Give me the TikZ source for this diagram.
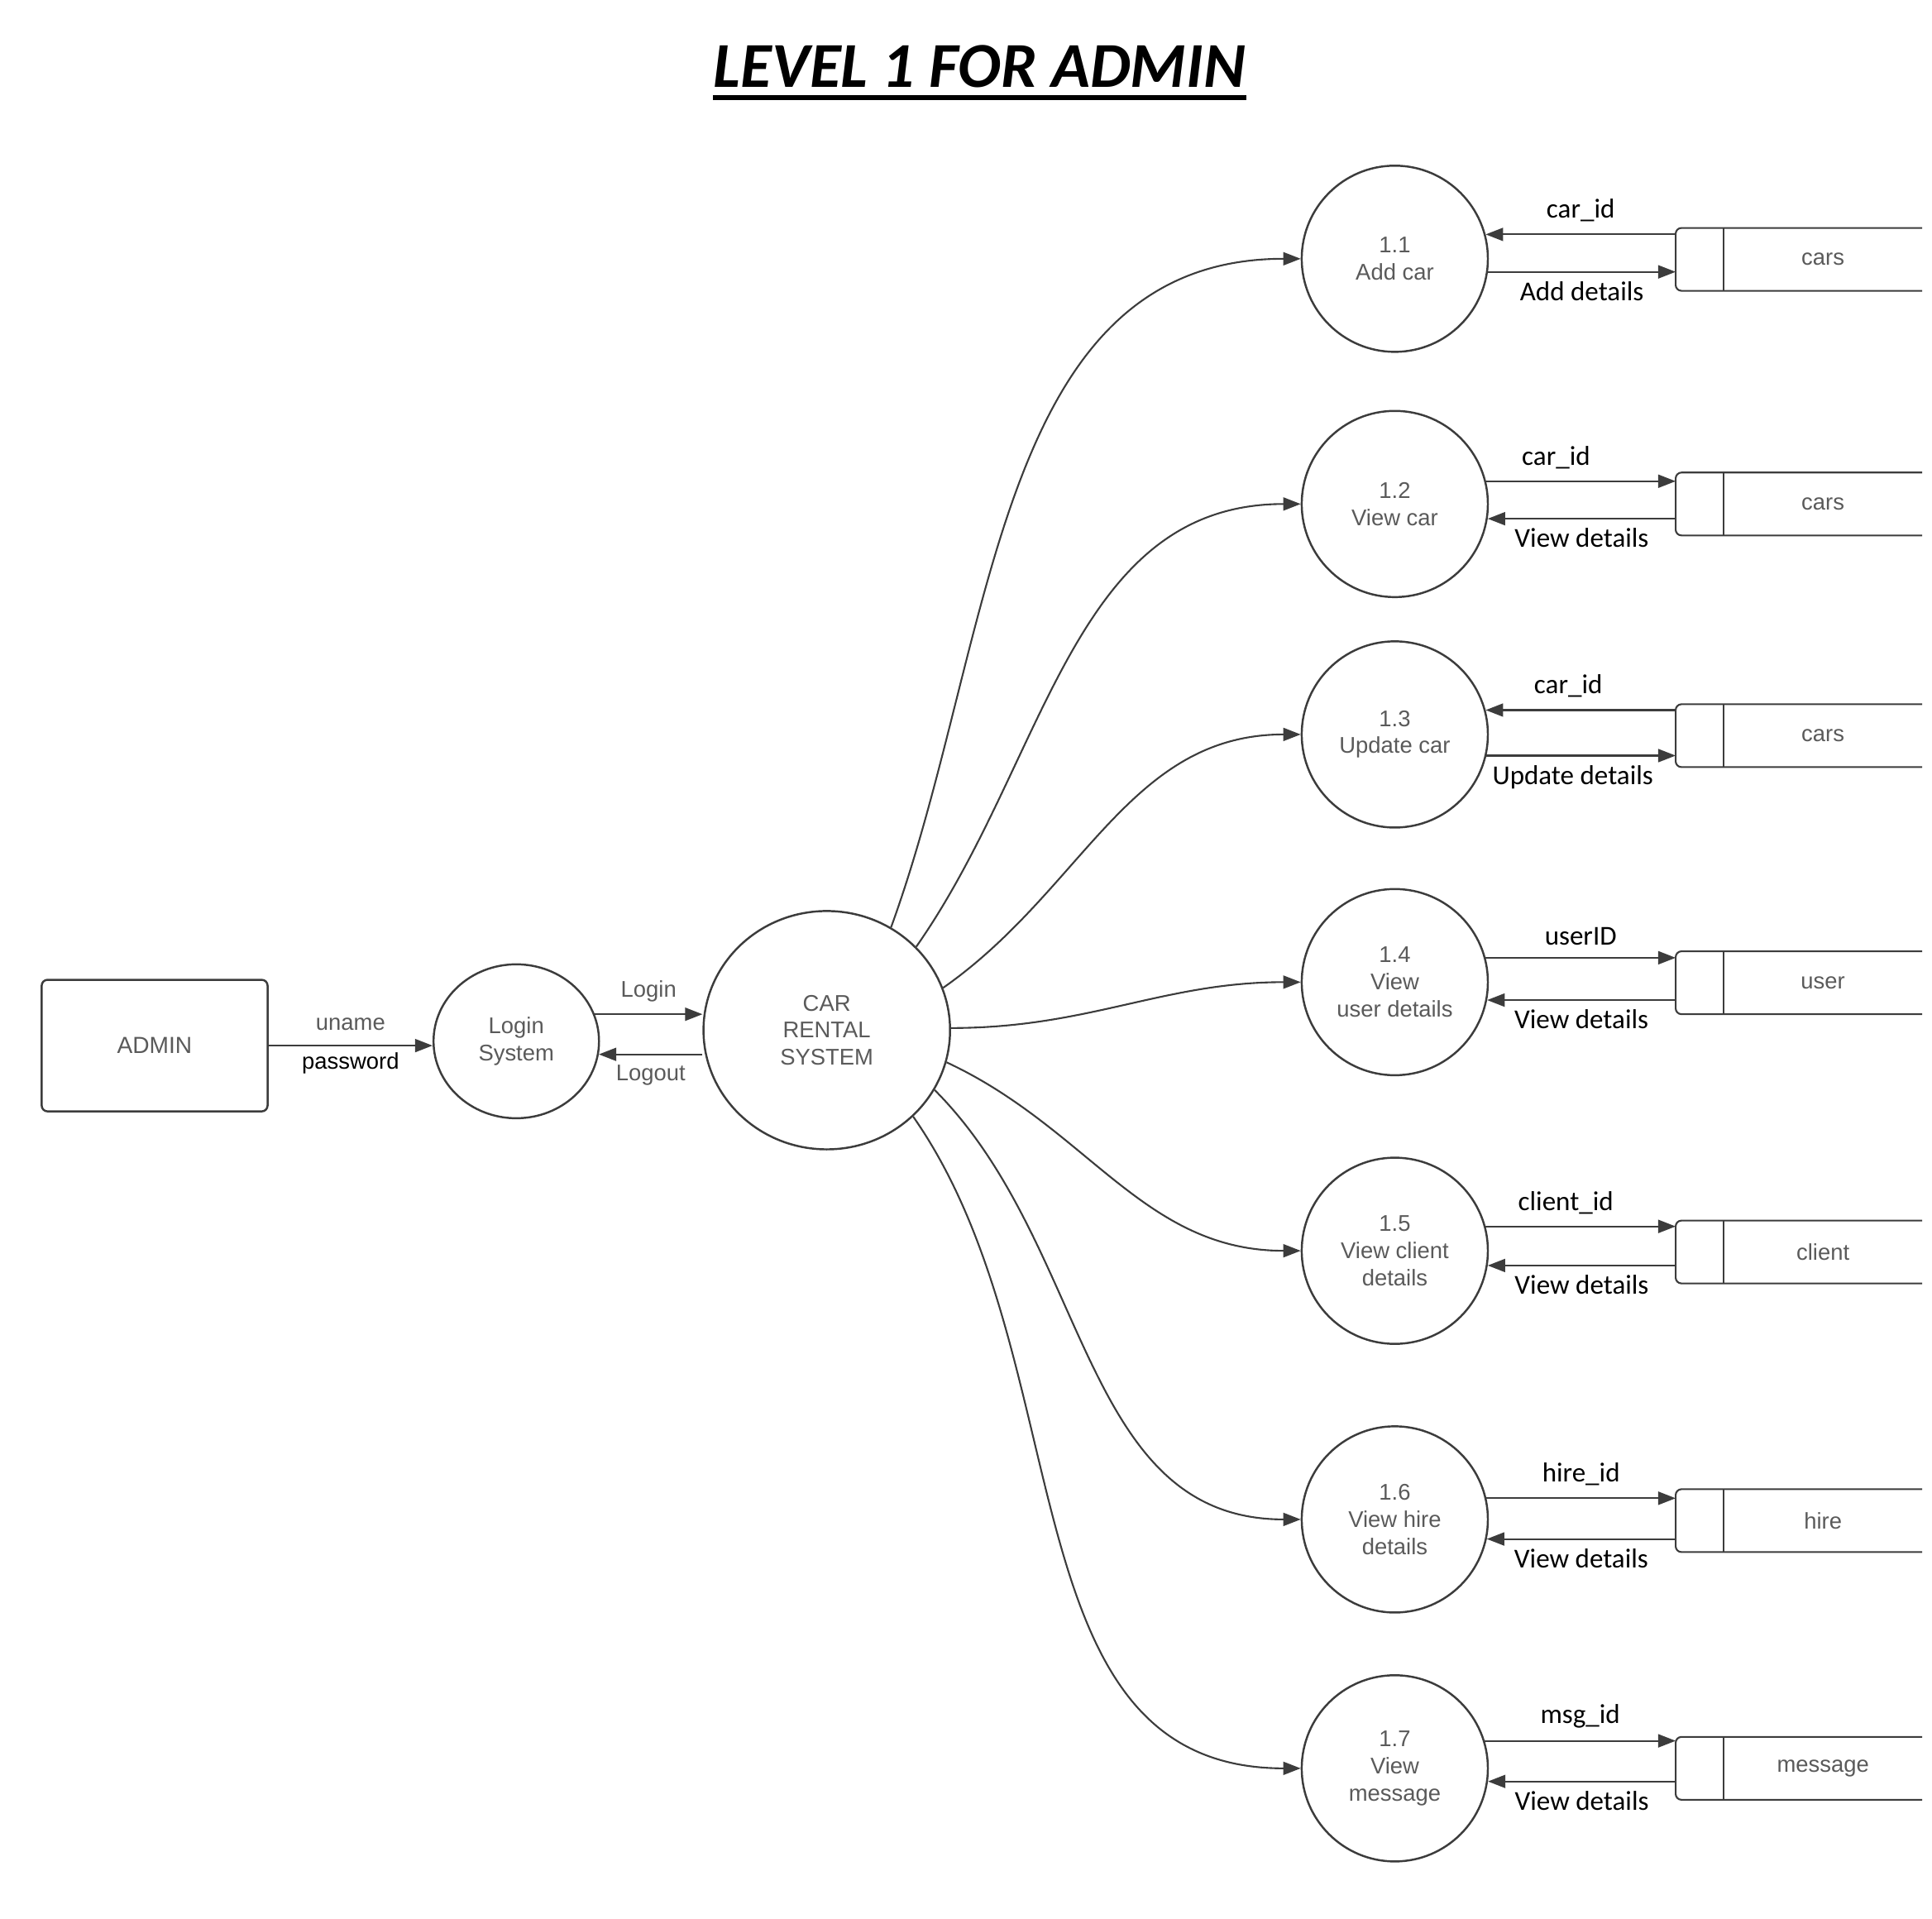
\documentclass[tikz,border=0pt]{standalone}
\usepackage{fontspec}
\setmainfont{Liberation Sans}
\newfontfamily\calib{Carlito}
\usetikzlibrary{arrows.meta, positioning, shapes}

\definecolor{linegray}{RGB}{60,60,60}
\definecolor{txtgray}{RGB}{90,90,90}

\begin{document}
\begin{tikzpicture}[x=0.0149cm, y=0.0149cm,
			proc/.style={draw=linegray, line width=0.7pt, circle, minimum size=2.25cm, inner sep=0pt, align=center, text=txtgray, font=\fontsize{7.8}{9.3}\selectfont},
			bigproc/.style={draw=linegray, line width=0.7pt, ellipse, inner sep=0pt, align=center, text=txtgray, font=\fontsize{7.8}{9.3}\selectfont},
			entity/.style={draw=linegray, line width=0.7pt, rectangle, rounded corners=2pt, minimum width=2.73cm, minimum height=1.59cm, text=txtgray, font=\fontsize{8}{9.6}\selectfont},
			store/.style={rectangle, minimum width=2.98cm, minimum height=0.76cm, inner sep=0pt, outer sep=0pt, text=txtgray, font=\fontsize{7.8}{9.3}\selectfont, execute at begin node=\hspace*{0.58cm}},
			wire/.style={draw=linegray, line width=0.6pt},
			arrow/.style={wire, -{Triangle[length=6pt, width=4.5pt]}},
			lbl/.style={font=\calib\fontsize{9.4}{11}\selectfont, inner sep=2pt},
			glbl/.style={text=txtgray, font=\fontsize{7.8}{9.3}\selectfont, inner sep=2pt}]
			
			\useasboundingbox (0,0) rectangle (1568,1557);
			
			% title
			\node[font=\calib\bfseries\itshape\fontsize{22}{26}\selectfont, inner sep=0pt, anchor=base] (title) at (795,1486) {LEVEL 1 FOR ADMIN};
			\draw[line width=1.7pt] ([yshift=-3.5pt]title.base west) -- ([yshift=-3.5pt]title.base east);
			
			% nodes
			\node[entity] (admin) at (125.5,708.5) {ADMIN};
			\node[bigproc, minimum width=2.0cm, minimum height=1.86cm] (login) at (419,712) {Login\\System};
			\node[bigproc, minimum width=2.98cm, minimum height=2.88cm] (crs) at (671,721) {CAR\\RENTAL\\SYSTEM};
			
			\node[proc] (p1) at (1132,1347) {1.1\\Add car};
			\node[proc] (p2) at (1132,1148) {1.2\\View car};
			\node[proc] (p3) at (1132,961) {1.3\\Update car};
			\node[proc] (p4) at (1132,760) {1.4\\View\\user details};
			\node[proc] (p5) at (1132,542) {1.5\\View client\\details};
			\node[proc] (p6) at (1132,324) {1.6\\View hire\\details};
			\node[proc] (p7) at (1132,122) {1.7\\View\\message};
			
			\node[store] (s1) at (1460,1346.5) {cars};
			\node[store] (s2) at (1460,1148) {cars};
			\node[store] (s3) at (1460,960) {cars};
			\node[store] (s4) at (1460,759.5) {user};
			\node[store] (s5) at (1460,541) {client};
			\node[store] (s6) at (1460,323) {hire};
			\node[store] (s7) at (1460,122) {message};
			
			\foreach \s in {s1,s2,s3,s4,s5,s6,s7}{
				\draw[wire, rounded corners=2pt] (\s.north east) -- (\s.north west) -- (\s.south west) -- (\s.south east);
				\draw[wire] ([xshift=0.58cm]\s.north west) -- ([xshift=0.58cm]\s.south west);
			}
			
			% login part
			\draw[arrow] (admin.east) -- (admin.east -| login.west)
				node[midway, above=3pt, glbl] {uname}
				node[midway, below, glbl, text=black] {password};
			\draw[arrow] (login.19) -- (login.19 -| crs.west) node[midway, above=2pt, glbl] {Login};
			\draw[arrow] (crs.west |- login.-9) -- (login.-9) node[midway, below=1.5pt, glbl] {Logout};
			
			% system to processes
			\draw[arrow] (crs.58) to[out=70, in=180] (p1.west);
			\draw[arrow] (crs.43) to[out=55, in=180] (p2.west);
			\draw[arrow] (crs.20) to[out=35, in=180] (p3.west);
			\draw[arrow] (crs.1) to[out=0, in=180] (p4.west);
			\draw[arrow] (crs.-15) to[out=-25, in=180] (p5.west);
			\draw[arrow] (crs.-29) to[out=-45, in=180] (p6.west);
			\draw[arrow] (crs.-45) to[out=-55, in=180] (p7.west);
			
			% processes and stores
			\draw[arrow] (p1.15 -| s1.west) -- (p1.15) node[midway, above=2pt, lbl] {car\_id};
			\draw[arrow] (p1.-8) -- (p1.-8 -| s1.west) node[midway, below=1pt, lbl] {Add details};
			
			\draw[arrow] (p2.14) -- (p2.14 -| s2.west) node[midway, above=2pt, lbl, xshift=-0.3cm] {car\_id};
			\draw[arrow] (p2.-9 -| s2.west) -- (p2.-9) node[midway, below=1pt, lbl] {View details};
			
			\draw[arrow] (p3.15 -| s3.west) -- (p3.15) node[midway, above=2pt, lbl, xshift=-0.15cm] {car\_id};
			\draw[arrow] (p3.-13) -- (p3.-13 -| s3.west) node[midway, below=1pt, lbl, xshift=-0.1cm] {Update details};
			
			\draw[arrow] (p4.15) -- (p4.15 -| s4.west) node[midway, above=2pt, lbl] {userID};
			\draw[arrow] (p4.-11 -| s4.west) -- (p4.-11) node[midway, below=1pt, lbl] {View details};
			
			\draw[arrow] (p5.15) -- (p5.15 -| s5.west) node[midway, above=2pt, lbl, xshift=-0.18cm] {client\_id};
			\draw[arrow] (p5.-9 -| s5.west) -- (p5.-9) node[midway, below=1pt, lbl] {View details};
			
			\draw[arrow] (p6.13) -- (p6.13 -| s6.west) node[midway, above=2pt, lbl] {hire\_id};
			\draw[arrow] (p6.-12 -| s6.west) -- (p6.-12) node[midway, below=1pt, lbl] {View details};
			
			\draw[arrow] (p7.17) -- (p7.17 -| s7.west) node[midway, above=2pt, lbl] {msg\_id};
			\draw[arrow] (p7.-8 -| s7.west) -- (p7.-8) node[midway, below=1pt, lbl] {View details};
			
		\end{tikzpicture}
\end{document}
